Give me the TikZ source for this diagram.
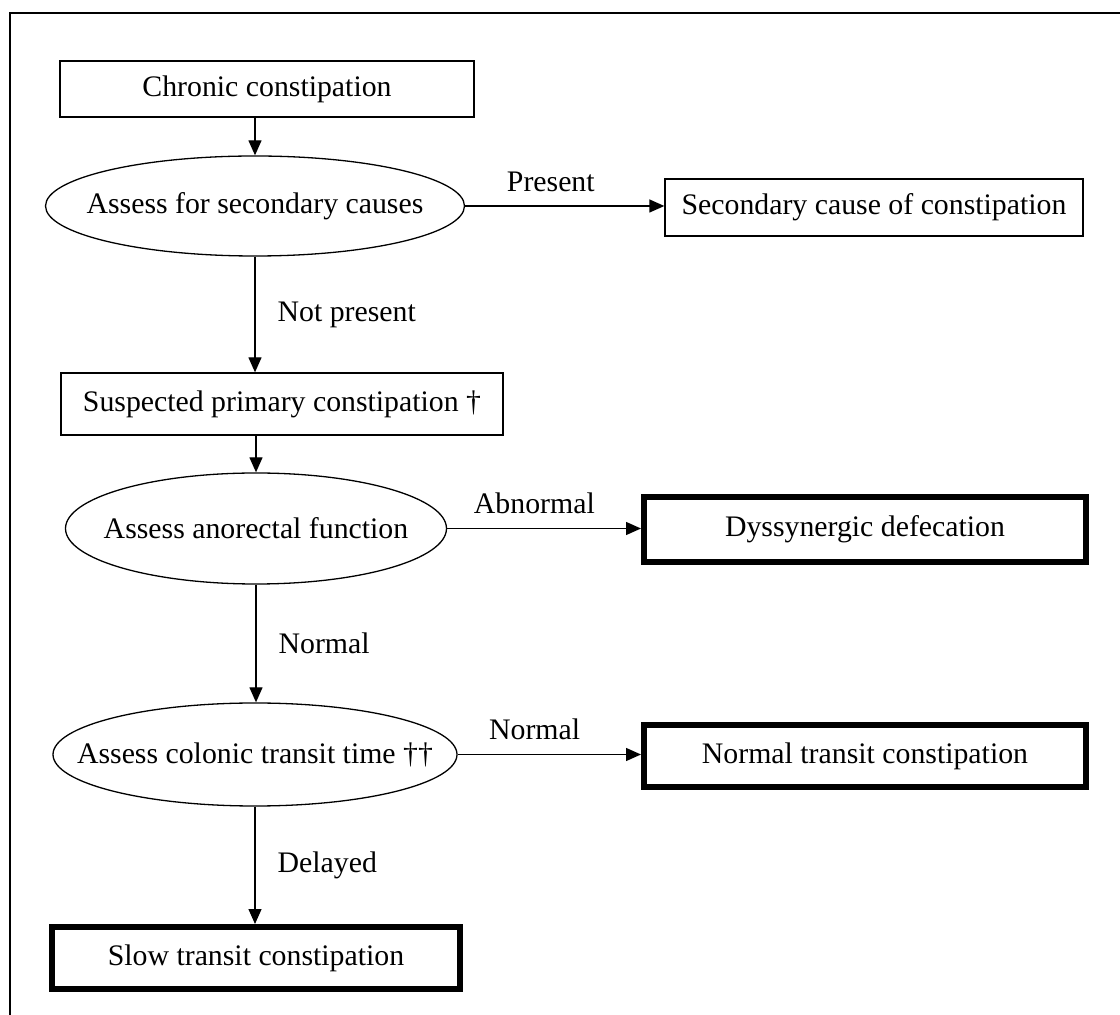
\documentclass[tikz,border=0pt]{standalone}
\usepackage{fontspec}
\setmainfont{Liberation Serif}
\usepackage{tikz}
\usetikzlibrary{arrows.meta,shapes.geometric}

\begin{document}
\begin{tikzpicture}[x=0.5pt, y=-0.5pt,
  font=\fontsize{14.9pt}{18pt}\selectfont,
  box/.style={draw, line width=0.65pt, inner sep=0pt},
  endbox/.style={draw, line width=3pt, inner sep=0pt},
  test/.style={draw, ellipse, line width=0.65pt, inner xsep=-30pt, inner ysep=0pt},
  arr/.style={-{Triangle[length=7.5pt,width=6.5pt]}, line width=0.65pt},
  lbl/.style={inner sep=0pt}]
\clip (0,0) rectangle (1120,1015);
\draw [line width=1.4pt] (10,13) rectangle (1140,1040);

\node (chronic) at (267,89) [box, minimum width=207pt, minimum height=28pt] {Chronic constipation};
\node (assess1) at (255,206) [test, minimum width=209.5pt, minimum height=50pt] {Assess for secondary causes};
\node (secondary) at (874,207.5) [box, minimum width=209pt, minimum height=28.5pt] {Secondary cause of constipation};

\node (suspected) at (282,404) [box, minimum width=221pt, minimum height=31pt] {Suspected primary constipation †};

\node (assess2) at (256,528.5) [test, minimum width=190.5pt, minimum height=55.5pt] {Assess anorectal function};
\node (dyssyn) at (865,529.5) [endbox, minimum width=221pt, minimum height=32.5pt] {Dyssynergic defecation};

\node (assess3) at (255,754.5) [test, minimum width=202pt, minimum height=51.5pt] {Assess colonic transit time ††};
\node (normaltr) at (865,756) [endbox, minimum width=221pt, minimum height=31pt] {Normal transit constipation};

\node (slow) at (256,958) [endbox, minimum width=204pt, minimum height=31pt] {Slow transit constipation};

\draw [arr] (chronic.south -| assess1.north) -- (assess1.north);
\draw [arr] (assess1.east) -- node [lbl, pos=0.43, above=7pt] {Present} (assess1.east -| secondary.west);
\draw [arr] (assess1.south) -- node [lbl, right=11pt] {Not present} (assess1.south |- suspected.north);

\draw [arr] (suspected.south -| assess2.north) -- (assess2.north);
\draw [arr] (assess2.east) -- node [lbl, pos=0.45, above=7pt] {Abnormal} (assess2.east -| dyssyn.west);
\draw [arr] (assess2.south) -- node [lbl, right=11pt] {Normal} (assess2.south |- assess3.north);

\draw [arr] (assess3.east) -- node [lbl, pos=0.42, above=7pt] {Normal} (assess3.east -| normaltr.west);
\draw [arr] (assess3.south) -- node [lbl, right=11pt] {Delayed} (assess3.south |- slow.north);
\end{tikzpicture}
\end{document}
